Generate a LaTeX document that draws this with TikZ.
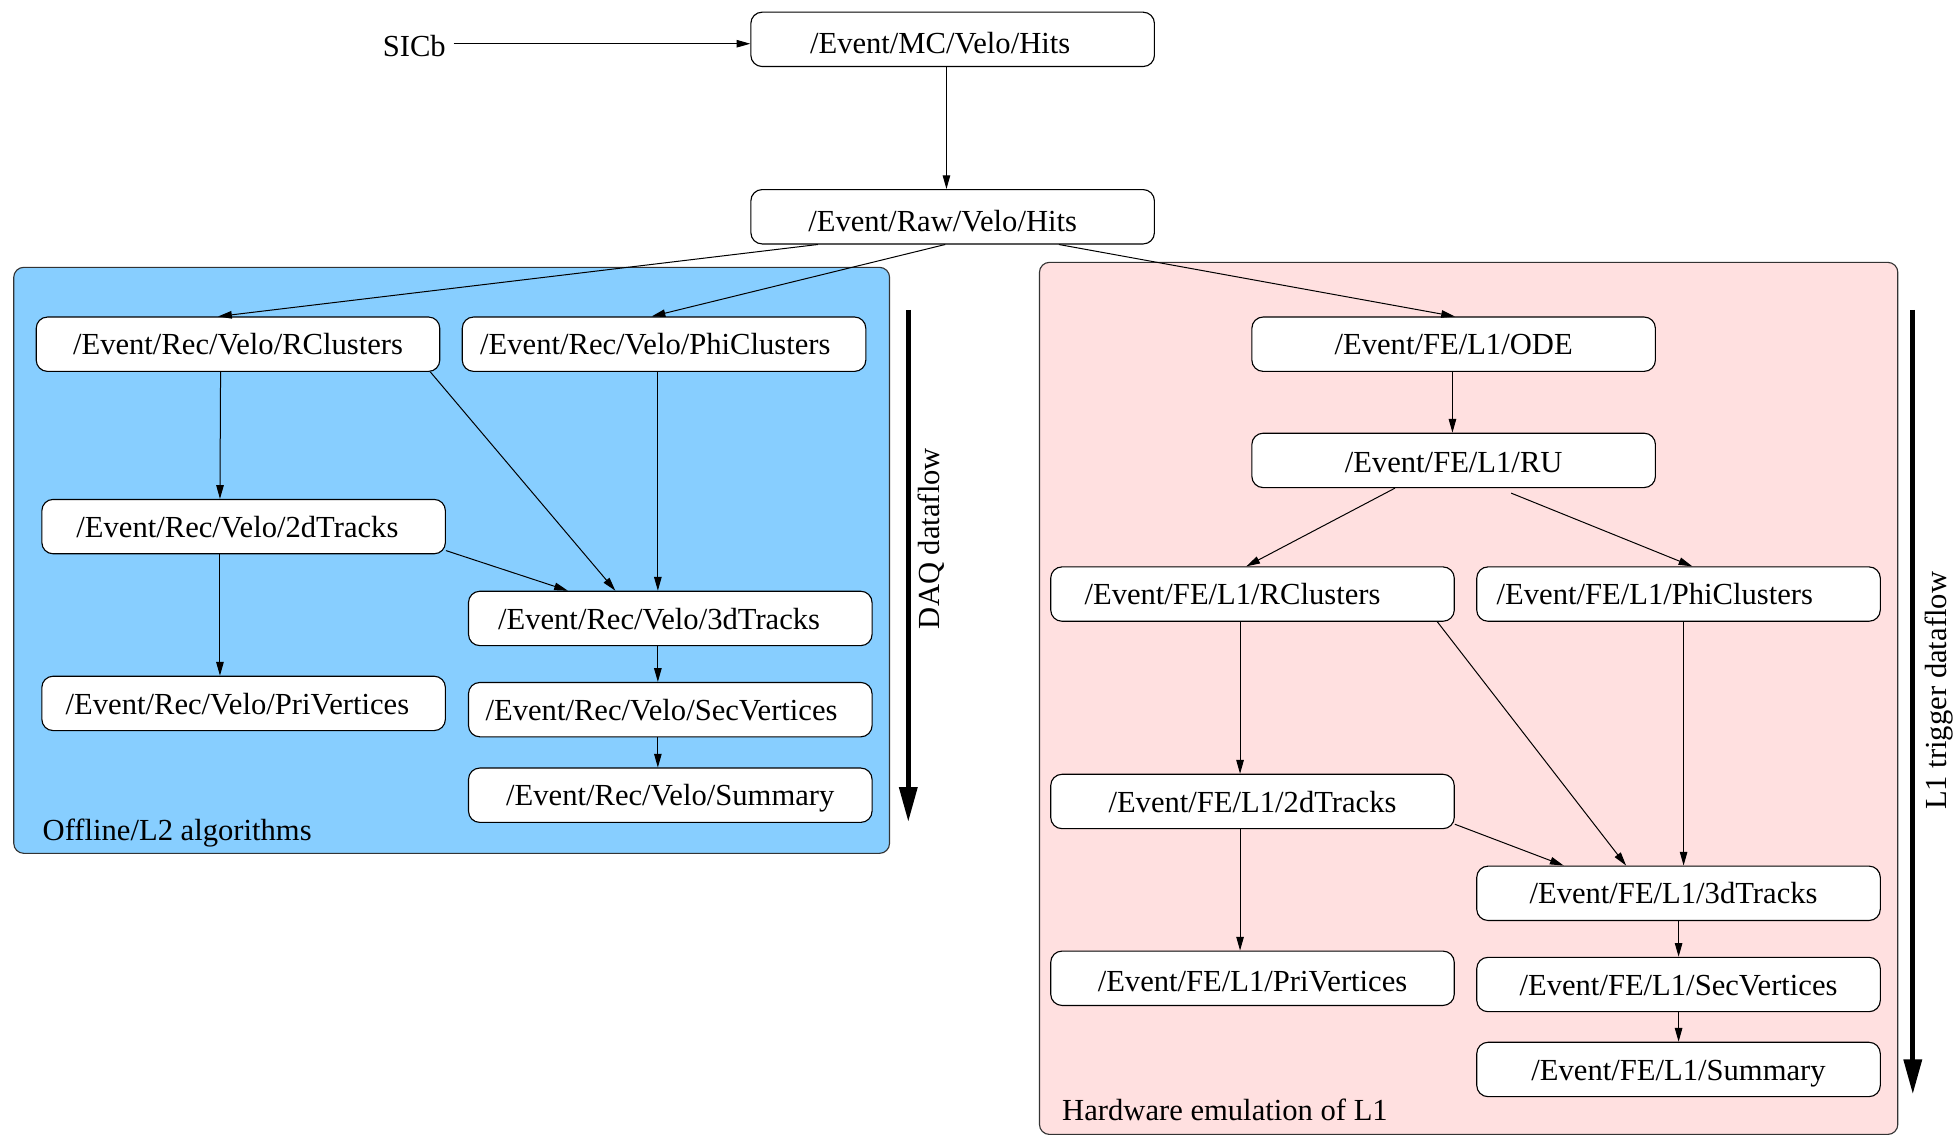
\documentclass[tikz,border=0pt]{standalone}
\usepackage{fontspec}
\setmainfont{Liberation Serif}
\usetikzlibrary{arrows.meta}
\definecolor{ltblue}{HTML}{87CEFF}
\definecolor{pinkfour}{HTML}{FFE0E0}
% set a label off-centre to the left by #1 inside its box
\newcommand{\leftby}[2]{#2\kern#1\kern#1}
\tikzset{
  box/.style={draw=black, line width=0.9pt, fill=white, rounded corners=9pt,
    minimum width=323pt, minimum height=43.5pt, inner sep=0pt,
    text height=17pt, text depth=0pt, align=center},
  low/.style={text height=23pt},
  panel/.style={draw=black!80, line width=0.9pt, rounded corners=8pt},
  flow/.style={line width=0.8pt, -{Triangle[length=11pt,width=6pt]}},
  bigflow/.style={line width=4pt, -{Triangle[length=28pt,width=14pt]}},
  lbl/.style={inner sep=0pt}
}
\begin{document}
\begin{tikzpicture}[x=1pt,y=-1pt, font=\fontsize{24.5}{29}\selectfont]
\useasboundingbox (0,0) rectangle (1568,910);

% background panels
\draw[panel, fill=ltblue] (11,214) rectangle (712,683);
\draw[panel, fill=pinkfour] (832,210) rectangle (1519,908);

% top of the chain
\node[box, low] (mc)  at (762.5,31.5)  {\leftby{10pt}{/Event/MC/Velo/Hits}};
\node[box, low] (raw) at (762.5,173.5) {\leftby{8pt}{/Event/Raw/Velo/Hits}};
\node[lbl, anchor=east] (sicb) at (357,37) {SICb};

% offline / L2 branch
\node[box] (rcl) at (190.5,275.5) {/Event/Rec/Velo/RClusters};
\node[box] (phi) at (531.5,275.5) {\leftby{7pt}{/Event/Rec/Velo/PhiClusters}};
\node[box] (l2d) at (195,421.5)   {\leftby{5pt}{/Event/Rec/Velo/2dTracks}};
\node[box] (l3d) at (536.5,495)   {\leftby{9pt}{/Event/Rec/Velo/3dTracks}};
\node[box] (pri) at (195,563)     {\leftby{5pt}{/Event/Rec/Velo/PriVertices}};
\node[box] (sec) at (536.5,568)   {\leftby{7pt}{/Event/Rec/Velo/SecVertices}};
\node[box] (sum) at (536.5,636.5) {/Event/Rec/Velo/Summary};
\node[lbl, anchor=base west] (offl) at (34,673) {Offline/L2 algorithms};

% hardware L1 branch
\node[box] (ode)  at (1163.5,275.5) {/Event/FE/L1/ODE};
\node[box, text height=20pt] (ru) at (1163.5,368.5) {/Event/FE/L1/RU};
\node[box] (frcl) at (1002.5,475.5) {\leftby{16pt}{/Event/FE/L1/RClusters}};
\node[box] (fphi) at (1343.5,475.5) {\leftby{19pt}{/Event/FE/L1/PhiClusters}};
\node[box] (f2d)  at (1002.5,641.5) {/Event/FE/L1/2dTracks};
\node[box] (f3d)  at (1343.5,715)   {\leftby{4pt}{/Event/FE/L1/3dTracks}};
\node[box, text height=21pt] (fpri) at (1002.5,783) {/Event/FE/L1/PriVertices};
\node[box] (fsec) at (1343.5,788)   {/Event/FE/L1/SecVertices};
\node[box] (fsum) at (1343.5,856)   {/Event/FE/L1/Summary};
\node[lbl, anchor=base west] (hwl) at (850,897) {Hardware emulation of L1};

% dataflow direction markers
\coordinate (daqtop) at (727,248);
\coordinate (daqbot) at (727,658);
\coordinate (l1top) at (1531,248);
\coordinate (l1bot) at (1531,876);
\draw[bigflow] (daqtop) -- (daqbot);
\draw[bigflow] (l1top) -- (l1bot);
\node[lbl, rotate=90] (daqlbl) at (745,431) {DAQ dataflow};
\node[lbl, rotate=90] (l1lbl) at (1552,553) {L1 trigger dataflow};

% connectors: top
\draw[flow] ([xshift=6pt,yshift=2pt]sicb.east) -- ([yshift=2pt]sicb.east -| mc.west);
\draw[flow] ([xshift=157pt]mc.south west) -- ([xshift=157pt]raw.north west);
\draw[flow] ([xshift=54pt]raw.south west) -- ([xshift=146pt]rcl.north west);
\draw[flow] ([xshift=156pt]raw.south west) -- ([xshift=152pt]phi.north west);
\draw[flow] ([xshift=247pt]raw.south west) -- ([xshift=163pt]ode.north west);

% connectors: offline / L2
\draw[flow] ([xshift=148pt]rcl.south west) -- ([xshift=143pt]l2d.north west);
\draw[flow] ([xshift=-8pt]rcl.south east) -- ([xshift=118pt]l3d.north west);
\draw[flow] ([xshift=157pt]phi.south west) -- ([xshift=152pt]l3d.north west);
\draw[flow] ([yshift=3pt]l2d.south east) -- ([xshift=80pt]l3d.north west);
\draw[flow] ([xshift=143pt]l2d.south west) -- ([xshift=143pt]pri.north west);
\draw[flow] ([xshift=152pt]l3d.south west) -- ([xshift=152pt]sec.north west);
\draw[flow] ([xshift=152pt]sec.south west) -- ([xshift=152pt]sum.north west);

% connectors: hardware L1
\draw[flow] ([xshift=161pt]ode.south west) -- ([xshift=161pt]ru.north west);
\draw[flow] ([xshift=115pt]ru.south west) -- ([xshift=157pt]frcl.north west);
\draw[flow] ([xshift=208pt,yshift=-4pt]ru.south west) -- ([xshift=173pt]fphi.north west);
\draw[flow] ([xshift=-14pt]frcl.south east) -- ([xshift=120pt]f3d.north west);
\draw[flow] ([xshift=166pt]fphi.south west) -- ([xshift=166pt]f3d.north west);
\draw[flow] ([xshift=152pt]frcl.south west) -- ([xshift=152pt]f2d.north west);
\draw[flow] ([yshift=4pt]f2d.south east) -- ([xshift=70pt]f3d.north west);
\draw[flow] ([xshift=152pt]f2d.south west) -- ([xshift=152pt]fpri.north west);
\draw[flow] ([xshift=162pt]f3d.south west) -- ([xshift=162pt]fsec.north west);
\draw[flow] ([xshift=162pt]fsec.south west) -- ([xshift=162pt]fsum.north west);
\end{tikzpicture}
\end{document}
